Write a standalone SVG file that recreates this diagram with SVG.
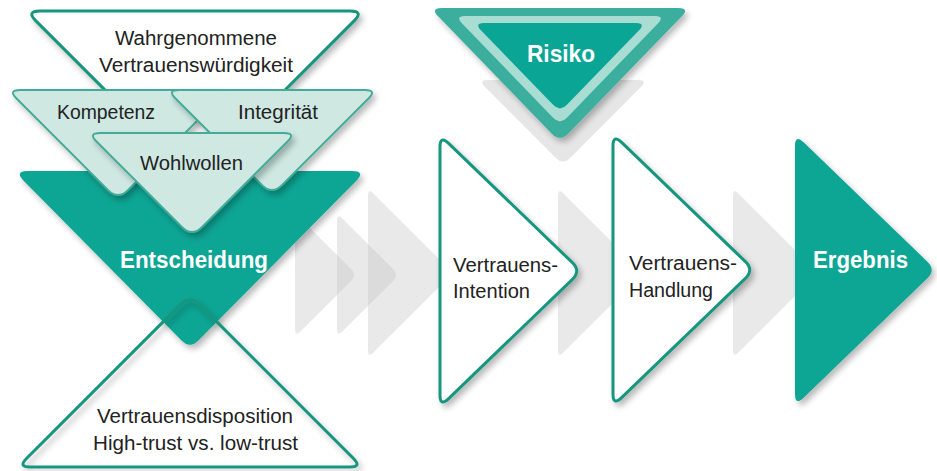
<svg xmlns="http://www.w3.org/2000/svg" width="937" height="471" viewBox="0 0 937 471">
<defs>
<filter id="sh" x="-20%" y="-20%" width="150%" height="150%">
<feGaussianBlur in="SourceAlpha" stdDeviation="3"/>
<feOffset dx="3" dy="4"/>
<feComponentTransfer><feFuncA type="linear" slope="0.28"/></feComponentTransfer>
<feMerge><feMergeNode/><feMergeNode in="SourceGraphic"/></feMerge>
</filter>
<path id="arrowR" d="M440,147 Q440,135 448.6,143.3 L572.4,262.7 Q581,271 572.4,279.3 L448.6,398.7 Q440,407 440,395 Z"/>
</defs>
<style>
.out{fill:#ffffff;stroke:#17967f;stroke-width:3}
.line{fill:none;stroke:#17967f;stroke-width:3}
.light{fill:#cfe8e2;stroke:#45ab99;stroke-width:2}
.dark{fill:#0aa594}
.ghost{fill:#c4c4c4;fill-opacity:0.38}
.t{font-family:"Liberation Sans",Arial,sans-serif;font-size:20px;fill:#222222}
.b{font-family:"Liberation Sans",Arial,sans-serif;font-size:23px;font-weight:bold;fill:#ffffff}
</style>

<g id="connectors">
<path class="ghost" d="M295,221 Q295,213 300.7,218.7 L351.3,269.3 Q357,275 351.3,280.7 L300.7,331.3 Q295,337 295,329 Z"/>
<path class="ghost" d="M337,221 Q337,213 342.7,218.7 L393.3,269.3 Q399,275 393.3,280.7 L342.7,331.3 Q337,337 337,329 Z"/>
<path class="ghost" d="M368,196 Q368,188 373.7,193.7 L447.3,267.3 Q453,273 447.3,278.7 L373.7,352.3 Q368,358 368,350 Z"/>
<path class="ghost" d="M558,196 Q558,188 563.7,193.7 L637.3,267.3 Q643,273 637.3,278.7 L563.7,352.3 Q558,358 558,350 Z"/>
<path class="ghost" d="M733,196 Q733,188 738.7,193.7 L812.3,267.3 Q818,273 812.3,278.7 L738.7,352.3 Q733,358 733,350 Z"/>
</g>

<g id="wahrgenommene">
<path class="out" filter="url(#sh)" d="M40,11 L350,11 Q364,11 354.1,20.9 L204.9,170.1 Q195,180 185.1,170.1 L35.9,20.9 Q26,11 40,11 Z"/>
<text class="t" x="115" y="45" textLength="162" lengthAdjust="spacingAndGlyphs">Wahrgenommene</text>
<text class="t" x="99" y="72" textLength="194" lengthAdjust="spacingAndGlyphs">Vertrauenswürdigkeit</text>
</g>

<g id="entscheidung">
<path class="dark" filter="url(#sh)" d="M28,171 L352,171 Q366,171 356.1,181 L198.4,340.5 Q190,349 181.6,340.5 L23.9,181 Q14,171 28,171 Z"/>
<text class="b" x="120" y="268" textLength="148" lengthAdjust="spacingAndGlyphs">Entscheidung</text>
</g>

<g id="kompetenz">
<path class="light" filter="url(#sh)" d="M20,90 L216,90 Q228,90 219.5,98.5 L127.9,190.1 Q118,200 108.1,190.1 L16.5,98.5 Q8,90 20,90 Z"/>
<text class="t" x="57" y="119" textLength="98" lengthAdjust="spacingAndGlyphs">Kompetenz</text>
</g>

<g id="integritaet">
<path class="light" filter="url(#sh)" d="M179,90 L365,90 Q377,90 368.5,98.5 L281.9,185.1 Q272,195 262.1,185.1 L175.5,98.5 Q167,90 179,90 Z"/>
<text class="t" x="238" y="119" textLength="80" lengthAdjust="spacingAndGlyphs">Integrität</text>
</g>

<g id="wohlwollen">
<path class="light" filter="url(#sh)" d="M100,133 L284,133 Q296,133 287.5,141.5 L201.9,227.1 Q192,237 182.1,227.1 L96.5,141.5 Q88,133 100,133 Z"/>
<text class="t" x="140" y="170" textLength="103" lengthAdjust="spacingAndGlyphs">Wohlwollen</text>
</g>

<g id="vertrauensdisposition">
<path class="line" filter="url(#sh)" d="M180.1,304.9 Q190,295 199.9,304.9 L353.5,458.5 Q362,467 350,467 L30,467 Q18,467 26.5,458.5 Z"/>
<text class="t" x="97" y="423" textLength="196" lengthAdjust="spacingAndGlyphs">Vertrauensdisposition</text>
<text class="t" x="93" y="450" textLength="205" lengthAdjust="spacingAndGlyphs">High-trust vs. low-trust</text>
</g>

<g id="intention">
<use href="#arrowR" class="out" filter="url(#sh)"/>
<text class="t" x="453" y="272" textLength="105" lengthAdjust="spacingAndGlyphs">Vertrauens-</text>
<text class="t" x="453" y="298" textLength="77" lengthAdjust="spacingAndGlyphs">Intention</text>
</g>

<g id="handlung">
<use href="#arrowR" class="out" filter="url(#sh)" transform="translate(173,-1)"/>
<text class="t" x="629" y="270" textLength="108" lengthAdjust="spacingAndGlyphs">Vertrauens-</text>
<text class="t" x="629" y="297" textLength="84" lengthAdjust="spacingAndGlyphs">Handlung</text>
</g>

<g id="ergebnis">
<use href="#arrowR" class="dark" filter="url(#sh)" transform="translate(355,-1)"/>
<text class="b" x="813" y="268" textLength="95" lengthAdjust="spacingAndGlyphs">Ergebnis</text>
</g>

<g id="risiko">
<path fill="#e6e6e6" d="M488,80 L638,80 Q648,80 640.9,87.1 L570.1,157.9 Q563,165 555.9,157.9 L485.1,87.1 Q478,80 488,80 Z"/>
<path fill="#3aae9e" filter="url(#sh)" d="M442,8 L678,8 Q690,8 681.6,16.6 L568.4,133.4 Q560,142 551.6,133.4 L438.4,16.6 Q430,8 442,8 Z"/>
<path fill="#a9dcd3" d="M465,16 L655,16 Q665,16 658.1,23.2 L566.9,117.8 Q560,125 553.1,117.8 L461.9,23.2 Q455,16 465,16 Z"/>
<path class="dark" d="M484,23 L636,23 Q646,23 639.1,30.2 L566.9,104.8 Q560,112 553.1,104.8 L480.9,30.2 Q474,23 484,23 Z"/>
<text class="b" x="527" y="62" font-size="25" textLength="68" lengthAdjust="spacingAndGlyphs">Risiko</text>
</g>
</svg>
